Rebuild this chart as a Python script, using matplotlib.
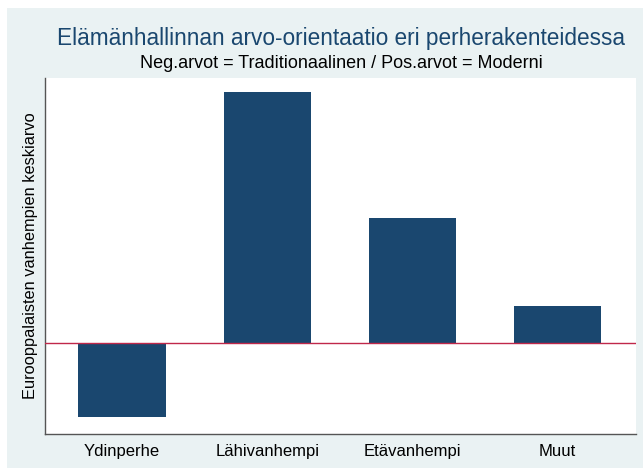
import numpy as np
import matplotlib.pyplot as plt
from matplotlib.patches import Rectangle

plt.rcParams['font.family'] = ['Liberation Sans', 'DejaVu Sans']

# data
categories = ['Ydinperhe', 'Lähivanhempi', 'Etävanhempi', 'Muut']
values = [-0.148, 0.502, 0.250, 0.074]

bar_color = '#1A476F'
bg_color = '#EAF2F3'

fig = plt.figure(figsize=(6.43, 4.70), dpi=100)
fig.patch.set_facecolor('white')
# light graph region (Stata style)
fig.patches.append(Rectangle((7 / 643, 2 / 470), 636 / 643, 460 / 470,
                             transform=fig.transFigure, facecolor=bg_color,
                             edgecolor='none', zorder=-10))

ax = fig.add_axes([45 / 643, 36 / 470, 591 / 643, 356 / 470])
ax.set_facecolor('white')

x = np.arange(len(categories))
ax.bar(x, values, width=0.6, color=bar_color, zorder=2)
ax.axhline(0, color='#C0284A', lw=1.0, zorder=3)

ax.set_xlim(-0.53, 3.54)
ax.set_ylim(-0.182, 0.53)
ax.set_xticks(x)
ax.set_xticklabels(categories, fontsize=12)
ax.tick_params(axis='x', length=0, pad=7)
ax.set_yticks([])
ax.set_ylabel('Eurooppalaisten vanhempien keskiarvo', fontsize=11.8, labelpad=5)

for s in ['top', 'right']:
    ax.spines[s].set_visible(False)
for s in ['left', 'bottom']:
    ax.spines[s].set_color('#555555')
    ax.spines[s].set_linewidth(1.0)

fig.text(0.531, 1 - 38 / 470, 'Elämänhallinnan arvo-orientaatio eri perherakenteidessa',
         ha='center', va='center', fontsize=16.3, color='#1A476F')
fig.text(0.531, 1 - 63 / 470, 'Neg.arvot = Traditionaalinen / Pos.arvot = Moderni',
         ha='center', va='center', fontsize=13, color='black')

fig.savefig('out.png', dpi=100, facecolor=fig.get_facecolor())
